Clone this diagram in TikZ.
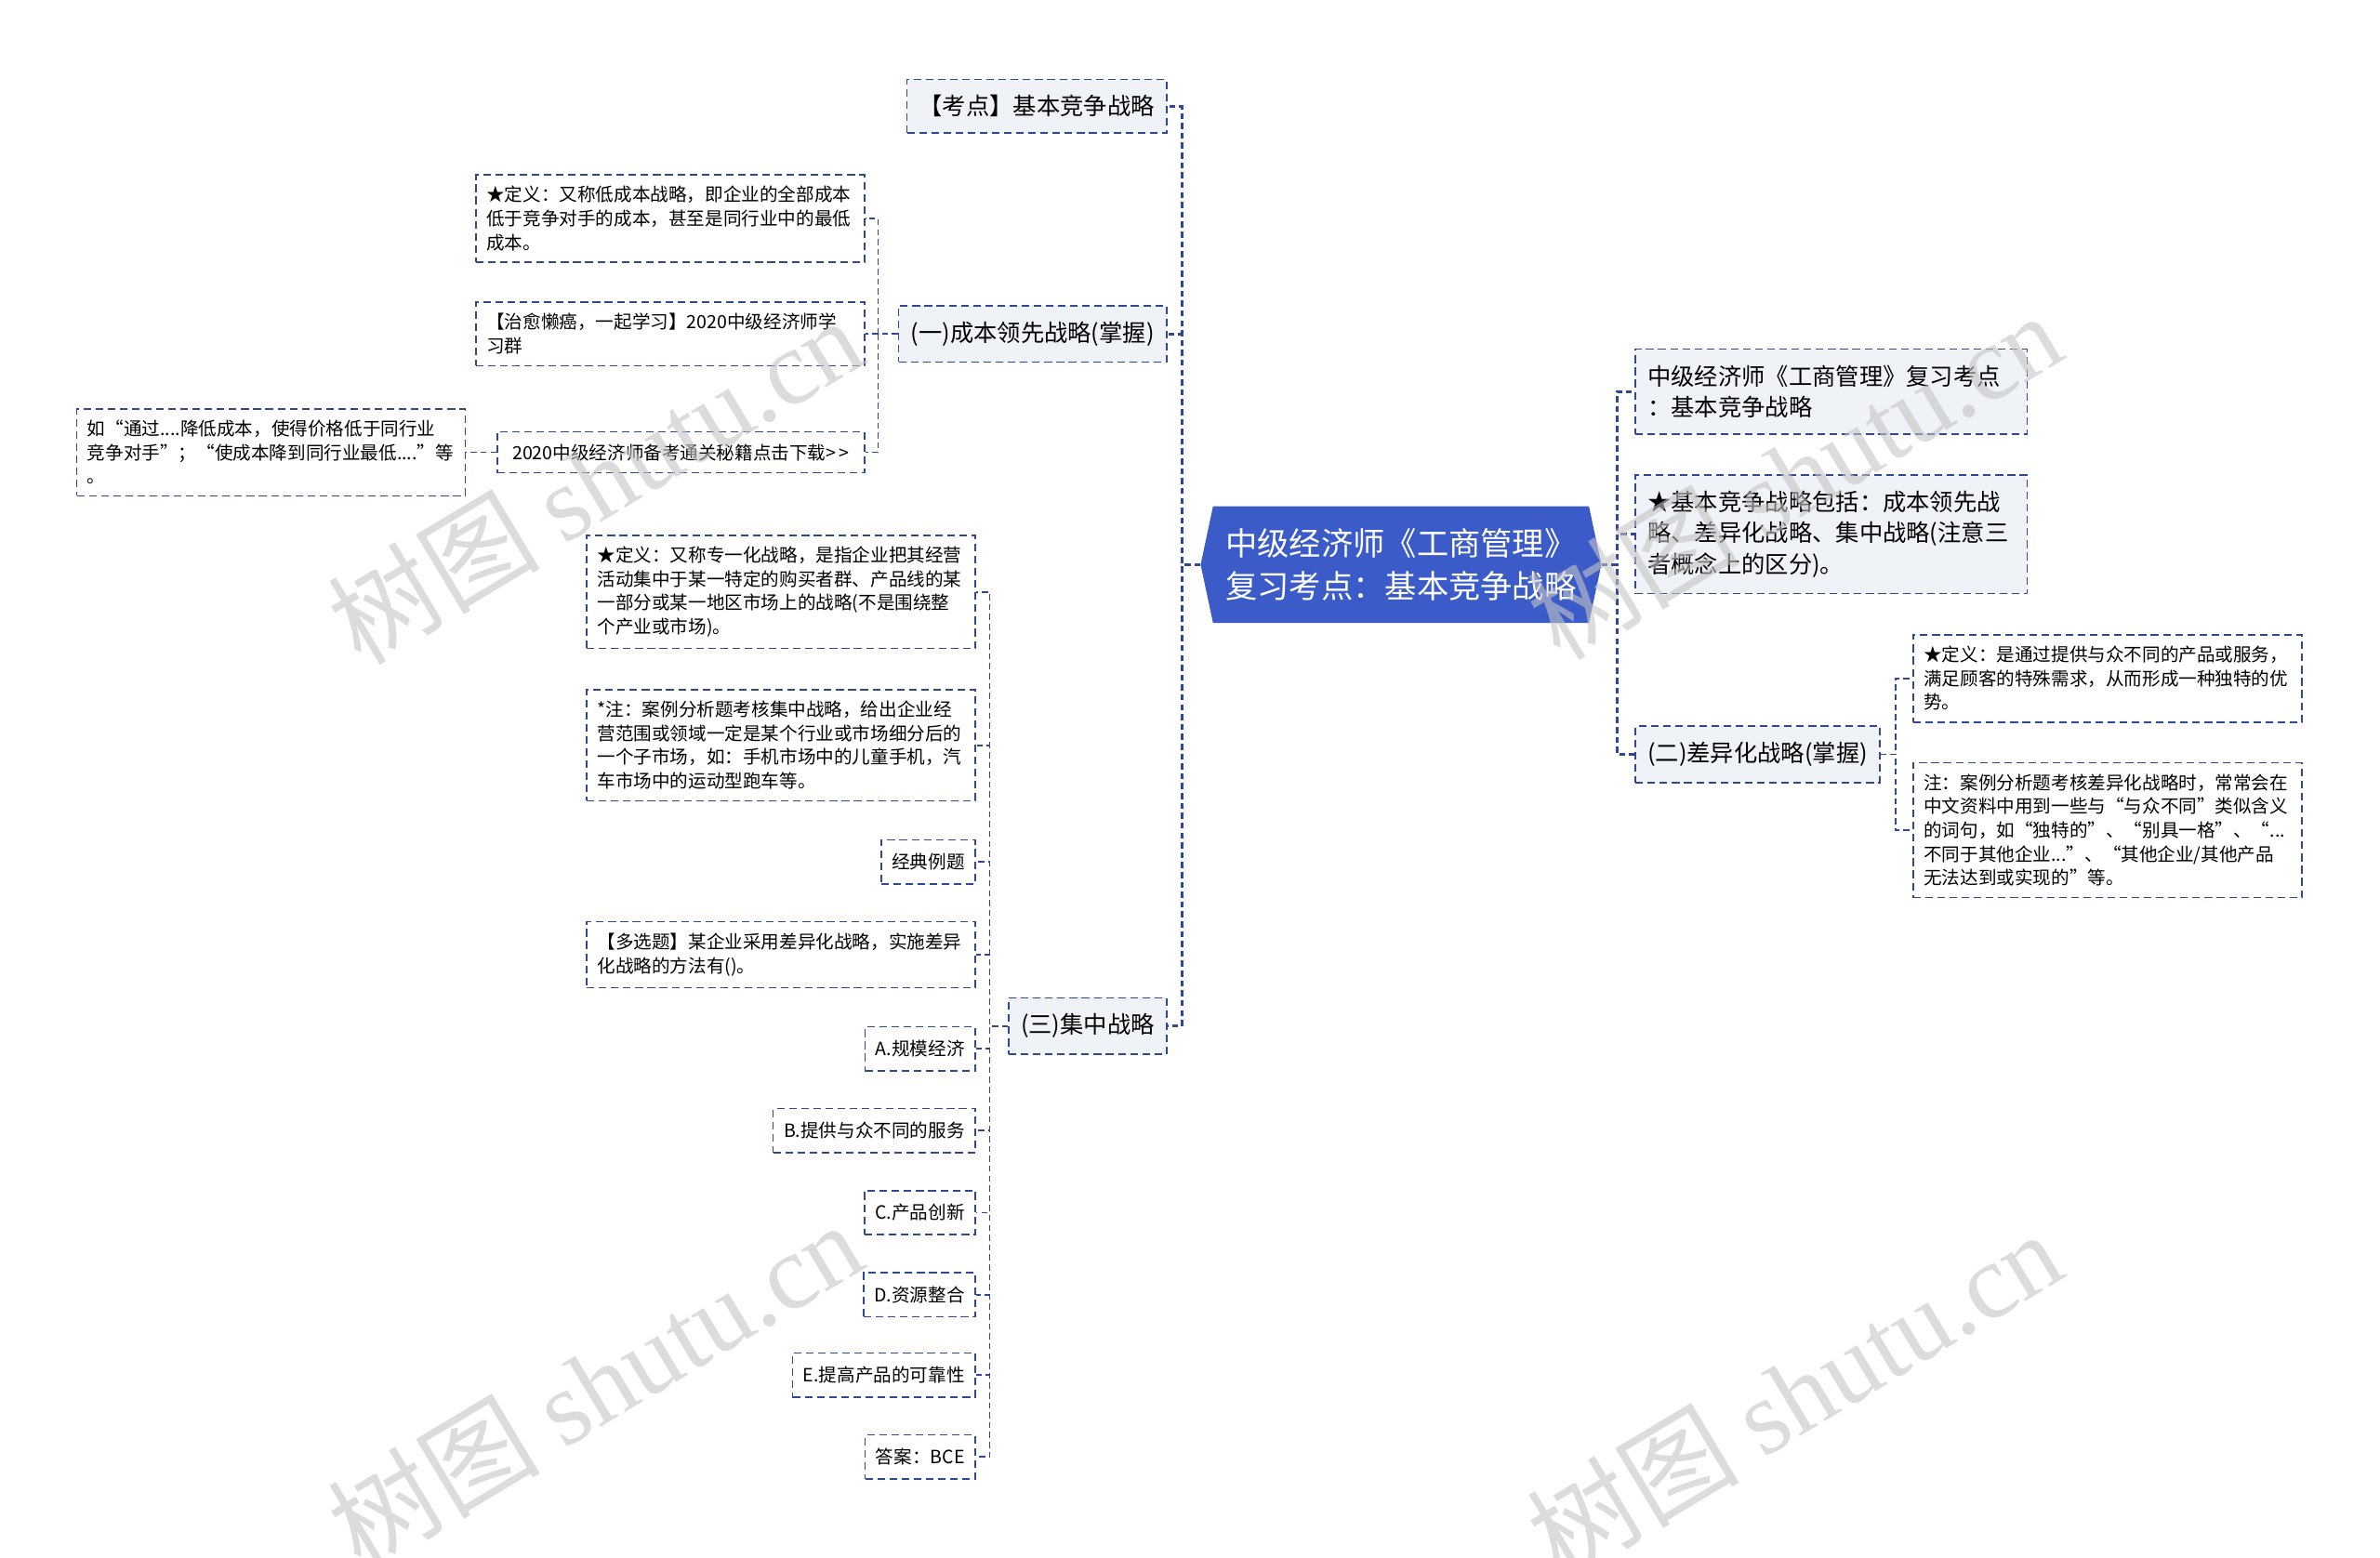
\documentclass[tikz,border=0pt]{standalone}
\usepackage{fontspec}
\setmainfont{Noto Sans CJK SC}
\newfontfamily\markfont{Liberation Serif}
\usepackage{tikz}
\usetikzlibrary{shapes.symbols}

\definecolor{rootblue}{RGB}{59,91,201}
\definecolor{linkblue}{RGB}{46,72,148}
\definecolor{boxgrey}{RGB}{239,242,246}
\definecolor{markgrey}{RGB}{196,196,196}

\begin{document}
\begin{tikzpicture}[x=1pt, y=-1pt,
    rootnode/.style={signal, signal to=west and east, signal pointer angle=156, fill=rootblue, text=white,
        font=\fontsize{21}{28}\selectfont, align=center, minimum width=264pt, minimum height=77pt, inner sep=0pt},
    topic/.style={draw=linkblue, line width=1pt, dash pattern=on 5pt off 3pt, fill=boxgrey,
        font=\fontsize{15.5}{20.5}\selectfont, align=left, inner xsep=8pt, inner ysep=10.5pt, minimum height=35pt},
    widetopic/.style={topic, text width=242pt},
    leaf/.style={draw=linkblue, line width=0.9pt, dash pattern=on 5pt off 3pt, fill=white,
        font=\fontsize{12}{15.7}\selectfont, align=left, inner xsep=7pt, inner ysep=7.5pt, minimum height=29pt},
    wideleaf/.style={leaf, text width=242pt},
    trunk/.style={draw=linkblue, line width=1.8pt, dash pattern=on 4pt off 2.5pt},
    twig/.style={draw=linkblue, line width=1.1pt, dash pattern=on 4pt off 2.5pt},
    wmark/.style={text=markgrey, opacity=0.6, rotate=31, font=\fontsize{70}{70}\selectfont}
]
    \useasboundingbox (0,0) rectangle (1568,1026); % page frame

    % Centre
    \node[rootnode] (root) at (923,372) {中级经济师《工商管理》\\复习考点：基本竞争战略};

    % Left topics
    \node[topic, anchor=east] (kaodian) at (769,70) {【考点】基本竞争战略};
    \node[topic, anchor=east] (chengben) at (769,220) {(一)成本领先战略(掌握)};
    \node[topic, anchor=east] (jizhong) at (769,676) {(三)集中战略};

    % Right topics
    \node[widetopic, anchor=west] (fuxi) at (1077,258) {中级经济师《工商管理》复习考点\\：基本竞争战略};
    \node[widetopic, anchor=west] (baokuo) at (1077,352) {★基本竞争战略包括：成本领先战\\略、差异化战略、集中战略(注意三\\者概念上的区分)。};
    \node[topic, anchor=west] (chayi) at (1077,497) {(二)差异化战略(掌握)};

    % Cost leadership
    \node[wideleaf, anchor=east] (cb1) at (570,144) {★定义：又称低成本战略，即企业的全部成本\\低于竞争对手的成本，甚至是同行业中的最低\\成本。};
    \node[wideleaf, anchor=east] (cb2) at (570,220) {【治愈懒癌，一起学习】2020中级经济师学\\习群};
    \node[leaf, anchor=east, minimum height=27pt, minimum width=242pt] (cb3) at (570,298) {2020中级经济师备考通关秘籍点击下载{>}\,{>}};
    \node[wideleaf, anchor=east] (cb3a) at (307,298) {如“通过....降低成本，使得价格低于同行业\\竞争对手”；“使成本降到同行业最低....”等\\。};

    % Differentiation
    \node[wideleaf, anchor=west] (cy1) at (1260,447) {★定义：是通过提供与众不同的产品或服务，\\满足顾客的特殊需求，从而形成一种独特的优\\势。};
    \node[wideleaf, anchor=west] (cy2) at (1260,547) {注：案例分析题考核差异化战略时，常常会在\\中文资料中用到一些与“与众不同”类似含义\\的词句，如“独特的”、“别具一格”、“...\\不同于其他企业...”、“其他企业/其他产品\\无法达到或实现的”等。};

    % Focus
    \node[wideleaf, anchor=east] (jz1) at (643,390) {★定义：又称专一化战略，是指企业把其经营\\活动集中于某一特定的购买者群、产品线的某\\一部分或某一地区市场上的战略(不是围绕整\\个产业或市场)。};
    \node[wideleaf, anchor=east] (jz2) at (643,491) {*注：案例分析题考核集中战略，给出企业经\\营范围或领域一定是某个行业或市场细分后的\\一个子市场，如：手机市场中的儿童手机，汽\\车市场中的运动型跑车等。};
    \node[leaf, anchor=east] (jz3) at (643,568) {经典例题};
    \node[wideleaf, anchor=east] (jz4) at (643,629) {【多选题】某企业采用差异化战略，实施差异\\化战略的方法有()。};
    \node[leaf, anchor=east] (jz5) at (643,691) {A.规模经济};
    \node[leaf, anchor=east] (jz6) at (643,745) {B.提供与众不同的服务};
    \node[leaf, anchor=east] (jz7) at (643,799) {C.产品创新};
    \node[leaf, anchor=east] (jz8) at (643,853) {D.资源整合};
    \node[leaf, anchor=east] (jz9) at (643,906) {E.提高产品的可靠性};
    \node[leaf, anchor=east] (jz10) at (643,960) {答案：BCE};

    % Connectors
    \foreach \t in {kaodian,chengben,jizhong}
        \draw[trunk] (root.west) -- ++(-12,0) |- (\t.east);
    \foreach \t in {fuxi,baokuo,chayi}
        \draw[trunk] (root.east) -- ++(10,0) |- (\t.west);
    \foreach \t in {cb1,cb2,cb3}
        \draw[twig] (chengben.west) -- ++(-13,0) |- (\t.east);
    \draw[twig] (cb3.west) -- (cb3a.east);
    \foreach \t in {cy1,cy2}
        \draw[twig] (chayi.east) -- ++(10,0) |- (\t.west);
    \foreach \t in {jz1,jz2,jz3,jz4,jz5,jz6,jz7,jz8,jz9,jz10}
        \draw[twig] (jizhong.west) -- ++(-12,0) |- (\t.east);

    % Watermarks
    \node[wmark] (wm1) at (392,316) {树图 {\markfont shutu.cn}};
    \node[wmark] (wm2) at (1182,313) {树图 {\markfont shutu.cn}};
    \node[wmark] (wm3) at (392,912) {树图 {\markfont shutu.cn}};
    \node[wmark] (wm4) at (1182,918) {树图 {\markfont shutu.cn}};
\end{tikzpicture}
\end{document}
